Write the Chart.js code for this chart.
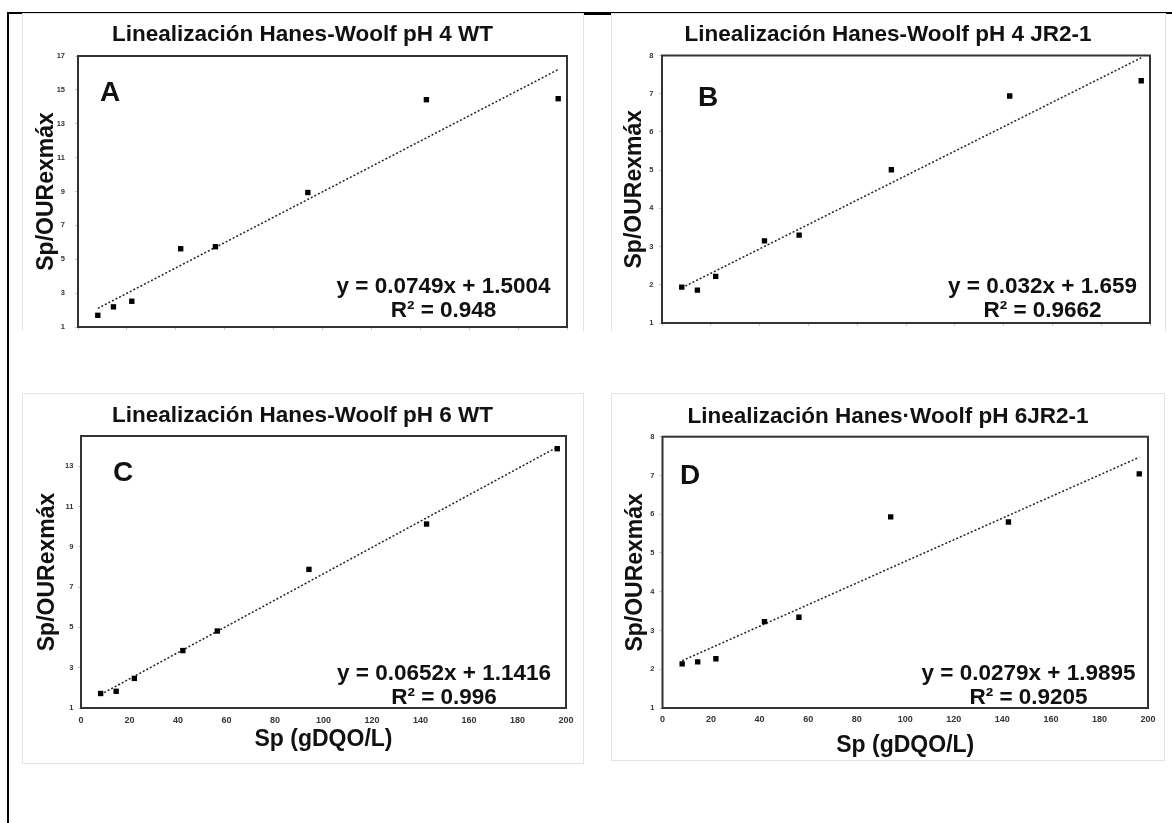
<!DOCTYPE html>
<html>
<head>
<meta charset="utf-8">
<script src="https://cdn.jsdelivr.net/npm/chart.js@4.4.1/dist/chart.umd.min.js"></script>
<style>
  body { margin: 0; background: #fff; width: 1172px; height: 823px; position: relative; overflow: hidden; }
  .area { position: absolute; box-sizing: border-box; border: 1px solid #e4e4e4; }
  .open { border-bottom: none; }
  canvas { position: absolute; }
  .line { position: absolute; background: #000; }
</style>
</head>
<body>
<div class="line" style="left:7px;top:12px;width:1165px;height:2px"></div>
<div class="line" style="left:7px;top:12px;width:2px;height:811px"></div>
<div class="line" style="left:583px;top:12px;width:28px;height:3px"></div>

<div class="area open" style="left:22px;top:13px;width:562px;height:318px"></div>
<div class="area open" style="left:611px;top:13px;width:555px;height:318px"></div>
<div class="area" style="left:22px;top:393px;width:562px;height:371px"></div>
<div class="area" style="left:611px;top:393px;width:554px;height:368px"></div>

<canvas id="chartA" width="561" height="330" style="left:22px;top:13px"></canvas>
<canvas id="chartB" width="554" height="330" style="left:611px;top:13px"></canvas>
<canvas id="chartC" width="561" height="370" style="left:22px;top:393px"></canvas>
<canvas id="chartD" width="554" height="367" style="left:611px;top:393px"></canvas>

<script>
// Sp (gDQO/L), same substrate points for all four runs
const spX = [8.1, 14.5, 22, 42, 56.2, 94, 142.5, 196.4];

// Sp/OURexmax for each run
const yA = [1.69, 2.19, 2.52, 5.62, 5.74, 8.94, 14.42, 14.48];
const yB = [1.94, 1.86, 2.22, 3.15, 3.30, 5.01, 6.94, 7.34];
const yC = [1.72, 1.83, 2.47, 3.85, 4.82, 7.88, 10.13, 13.87];
const yD = [2.14, 2.19, 2.27, 3.23, 3.34, 5.93, 5.80, 7.04];

// linear trendline ends (first and last Sp)
const trendX = [8.1, 196.4];
const trendA = [2.1, 16.2];
const trendB = [1.92, 7.94];
const trendC = [1.67, 13.95];
const trendD = [2.22, 7.47];

// axis ticks
const xTicks = [0, 20, 40, 60, 80, 100, 120, 140, 160, 180, 200];
const yTicksA = [1, 3, 5, 7, 9, 11, 13, 15, 17];
const yTicksB = [1, 2, 3, 4, 5, 6, 7, 8];
const yTicksC = [1, 3, 5, 7, 9, 11, 13];
const yTicksD = [1, 2, 3, 4, 5, 6, 7, 8];

const titles = [
  'Linealización Hanes-Woolf pH 4 WT',
  'Linealización Hanes-Woolf pH 4 JR2-1',
  'Linealización Hanes-Woolf pH 6 WT',
  'Linealización Hanes·Woolf pH 6JR2-1'
];
const letters = ['A', 'B', 'C', 'D'];
const equations = ['y = 0.0749x + 1.5004', 'y = 0.032x + 1.659', 'y = 0.0652x + 1.1416', 'y = 0.0279x + 1.9895'];
const r2Labels = ['R² = 0.948', 'R² = 0.9662', 'R² = 0.996', 'R² = 0.9205'];

const FAMILY = "'Liberation Sans', Arial, sans-serif";
Chart.defaults.font.family = FAMILY;

// plot box, title, panel letter and the trendline equation
const panelText = {
  id: 'panelText',
  beforeDatasetsDraw(chart) {
    const { ctx, chartArea: a } = chart;
    ctx.save();
    ctx.strokeStyle = '#333';
    ctx.lineWidth = 2;
    ctx.strokeRect(a.left, a.top, a.right - a.left, a.bottom - a.top);
    ctx.restore();
  },
  afterDraw(chart, args, o) {
    const ctx = chart.ctx;
    ctx.save();
    ctx.fillStyle = '#111';
    ctx.textAlign = 'center';
    ctx.textBaseline = 'alphabetic';
    ctx.font = 'bold 22.5px ' + FAMILY;
    ctx.fillText(o.title, chart.width / 2, o.titleY);
    ctx.fillText(o.eq, o.eqX, o.eqY);
    ctx.fillText(o.r2, o.eqX, o.eqY + 24);
    ctx.font = 'bold 28px ' + FAMILY;
    ctx.fillText(o.letter, o.letterX, o.letterY);
    ctx.restore();
  }
};
Chart.register(panelText);

function makeChart(id, i, ys, trendY, yMax, yTicks, lay) {
  const pts = spX.map((x, k) => ({ x: x, y: ys[k] }));
  const trend = trendX.map((x, k) => ({ x: x, y: trendY[k] }));
  return new Chart(document.getElementById(id), {
    type: 'scatter',
    data: {
      datasets: [
        { data: pts, pointStyle: 'rect', pointRadius: 3.8, pointHoverRadius: 3.8,
          backgroundColor: '#000', borderColor: '#000', borderWidth: 0, order: 1 },
        { type: 'line', data: trend, borderColor: '#222', borderWidth: 1.5, borderDash: [2, 2],
          pointRadius: 0, fill: false, order: 2 }
      ]
    },
    options: {
      responsive: false,
      animation: false,
      events: [],
      layout: { padding: { left: 0, top: lay.top, right: lay.right, bottom: 0 } },
      plugins: {
        legend: { display: false },
        tooltip: { enabled: false },
        panelText: {
          title: titles[i], titleY: lay.titleY,
          letter: letters[i], letterX: lay.letterX, letterY: lay.letterY,
          eq: equations[i], r2: r2Labels[i], eqX: lay.eqX, eqY: lay.eqY
        }
      },
      scales: {
        x: {
          type: 'linear', min: 0, max: 200,
          afterBuildTicks: s => { s.ticks = xTicks.map(v => ({ value: v })); },
          afterFit: s => { s.height = lay.xH; },
          ticks: { display: lay.showX, padding: lay.xPad, color: '#333', font: { size: 9, weight: 'bold' } },
          grid: { drawOnChartArea: false, drawTicks: !lay.showX, tickLength: 3, color: '#c8c8c8' },
          border: { display: false },
          title: { display: lay.showX, text: 'Sp (gDQO/L)', color: '#111',
                   font: { size: 23, weight: 'bold' }, padding: { top: 0, bottom: lay.xTitlePad } }
        },
        y: {
          type: 'linear', min: 1, max: yMax,
          afterBuildTicks: s => { s.ticks = yTicks.map(v => ({ value: v })); },
          afterFit: s => { s.width = lay.yW; },
          ticks: { padding: lay.yPad, color: '#333', font: { size: 7.5, weight: 'bold' } },
          grid: { drawOnChartArea: false, drawTicks: true, tickLength: 3, color: '#c8c8c8' },
          border: { display: false },
          title: { display: true, text: 'Sp/OURexmáx', color: '#111',
                   font: { size: 23, weight: 'bold' }, padding: { top: lay.yTitlePad, bottom: 0 } }
        }
      }
    }
  });
}

makeChart('chartA', 0, yA, trendA, 17, yTicksA,
  { top: 43, right: 16, yW: 56, xH: 16, showX: false, xPad: 0, xTitlePad: 0, yPad: 10, yTitlePad: 11,
    titleY: 27.5, letterX: 88, letterY: 87.5, eqX: 421.5, eqY: 280 });
makeChart('chartB', 1, yB, trendB, 8, yTicksB,
  { top: 42.5, right: 15, yW: 51, xH: 20, showX: false, xPad: 0, xTitlePad: 0, yPad: 5.5, yTitlePad: 9.5,
    titleY: 28, letterX: 97, letterY: 92.5, eqX: 431.5, eqY: 280 });
makeChart('chartC', 2, yC, trendC, 14.5, yTicksC,
  { top: 43, right: 17, yW: 59, xH: 55, showX: true, xPad: 7.3, xTitlePad: 9.3, yPad: 4.6, yTitlePad: 12,
    titleY: 28.5, letterX: 101, letterY: 87.5, eqX: 422, eqY: 287 });
makeChart('chartD', 3, yD, trendD, 8, yTicksD,
  { top: 43.7, right: 17, yW: 51.5, xH: 52, showX: true, xPad: 6.6, xTitlePad: 1, yPad: 5, yTitlePad: 10.5,
    titleY: 29.5, letterX: 79, letterY: 90.5, eqX: 417.5, eqY: 287 });
</script>
</body>
</html>
